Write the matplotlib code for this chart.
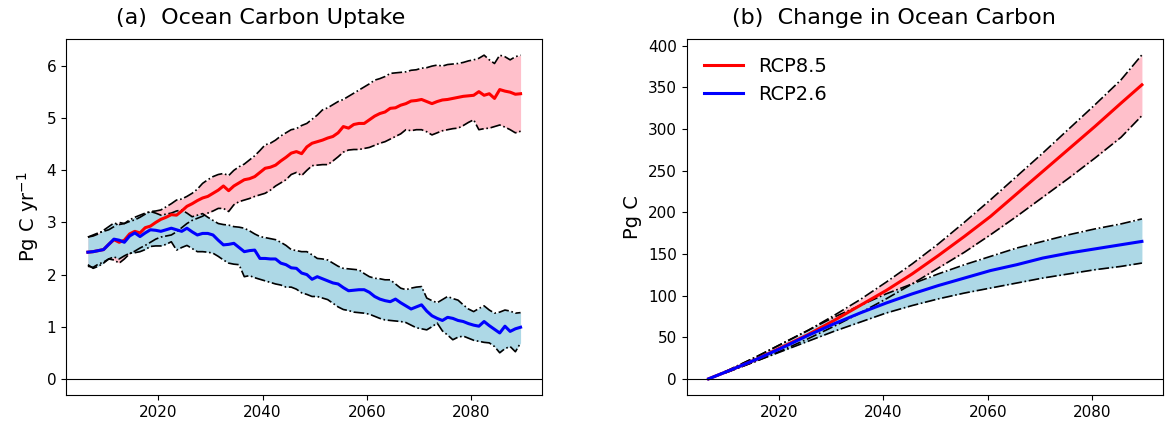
import numpy as np
import matplotlib
matplotlib.use("Agg")
import matplotlib.pyplot as plt

# annual values, 2006-2089 (plotted at mid-year)
years = np.arange(2006, 2090) + 0.5

# (a) uptake, Pg C / yr
rcp85_mean = [2.43, 2.44, 2.46, 2.48, 2.58, 2.67, 2.62, 2.66, 2.78, 2.83,
              2.80, 2.90, 2.93, 3.00, 3.06, 3.10, 3.15, 3.14, 3.22, 3.31,
              3.36, 3.42, 3.47, 3.50, 3.56, 3.62, 3.70, 3.61, 3.70, 3.76,
              3.82, 3.84, 3.88, 3.96, 4.04, 4.06, 4.10, 4.18, 4.25, 4.33,
              4.36, 4.32, 4.45, 4.52, 4.55, 4.58, 4.62, 4.65, 4.72, 4.84,
              4.81, 4.88, 4.90, 4.90, 4.97, 5.04, 5.09, 5.12, 5.19, 5.20,
              5.25, 5.28, 5.33, 5.34, 5.36, 5.32, 5.28, 5.32, 5.35, 5.36,
              5.38, 5.40, 5.42, 5.43, 5.44, 5.51, 5.44, 5.47, 5.38, 5.55,
              5.52, 5.50, 5.46, 5.47]
rcp85_hi = [2.72, 2.76, 2.80, 2.83, 2.86, 2.92, 3.00, 2.98, 3.02, 3.05,
            3.10, 3.16, 3.21, 3.22, 3.24, 3.30, 3.36, 3.43, 3.45, 3.50,
            3.56, 3.64, 3.75, 3.82, 3.88, 3.92, 3.94, 3.90, 4.00, 4.07,
            4.12, 4.20, 4.28, 4.38, 4.49, 4.52, 4.58, 4.66, 4.72, 4.78,
            4.80, 4.86, 4.90, 4.98, 5.06, 5.16, 5.20, 5.26, 5.32, 5.36,
            5.42, 5.48, 5.54, 5.60, 5.66, 5.73, 5.76, 5.80, 5.86, 5.87,
            5.88, 5.89, 5.92, 5.93, 5.96, 5.97, 6.00, 6.02, 6.00, 6.03,
            6.04, 6.05, 6.07, 6.10, 6.12, 6.15, 6.21, 6.12, 6.05, 6.21,
            6.18, 6.12, 6.18, 6.21]
rcp85_lo = [2.16, 2.14, 2.20, 2.24, 2.30, 2.28, 2.22, 2.30, 2.40, 2.45,
            2.51, 2.56, 2.62, 2.68, 2.72, 2.74, 2.76, 2.82, 2.90, 2.98,
            3.04, 3.08, 3.12, 3.18, 3.22, 3.27, 3.27, 3.21, 3.34, 3.40,
            3.43, 3.46, 3.50, 3.53, 3.56, 3.62, 3.70, 3.76, 3.82, 3.92,
            3.96, 3.90, 4.00, 4.09, 4.10, 4.11, 4.11, 4.18, 4.26, 4.35,
            4.39, 4.40, 4.40, 4.42, 4.44, 4.48, 4.52, 4.55, 4.60, 4.65,
            4.70, 4.78, 4.76, 4.78, 4.78, 4.74, 4.68, 4.72, 4.76, 4.78,
            4.80, 4.81, 4.86, 4.92, 4.97, 4.78, 4.80, 4.81, 4.84, 4.87,
            4.83, 4.78, 4.72, 4.75]
rcp26_mean = [2.43, 2.44, 2.46, 2.48, 2.58, 2.68, 2.66, 2.62, 2.74, 2.80,
              2.73, 2.80, 2.86, 2.85, 2.83, 2.86, 2.89, 2.86, 2.83, 2.89,
              2.82, 2.76, 2.79, 2.79, 2.76, 2.66, 2.57, 2.58, 2.60, 2.52,
              2.44, 2.46, 2.47, 2.31, 2.31, 2.30, 2.30, 2.22, 2.19, 2.13,
              2.12, 2.03, 2.00, 1.91, 1.96, 1.92, 1.88, 1.84, 1.82, 1.75,
              1.69, 1.70, 1.71, 1.71, 1.66, 1.58, 1.53, 1.50, 1.48, 1.53,
              1.46, 1.40, 1.34, 1.38, 1.42, 1.30, 1.21, 1.16, 1.12, 1.18,
              1.16, 1.12, 1.10, 1.06, 1.03, 1.01, 1.10, 1.02, 0.95, 0.88,
              1.01, 0.91, 0.96, 0.99]
rcp26_hi = [2.72, 2.74, 2.78, 2.85, 2.92, 2.99, 2.96, 2.98, 3.05, 3.10,
            3.14, 3.18, 3.21, 3.18, 3.14, 3.16, 3.18, 3.22, 3.24, 3.18,
            3.11, 3.14, 3.17, 3.10, 3.04, 2.98, 2.96, 2.95, 2.92, 2.91,
            2.89, 2.84, 2.78, 2.73, 2.71, 2.69, 2.67, 2.62, 2.56, 2.48,
            2.46, 2.44, 2.44, 2.38, 2.31, 2.30, 2.28, 2.22, 2.16, 2.12,
            2.11, 2.10, 2.09, 2.02, 1.96, 1.93, 1.92, 1.90, 1.90, 1.82,
            1.74, 1.71, 1.74, 1.76, 1.77, 1.55, 1.50, 1.46, 1.52, 1.58,
            1.54, 1.51, 1.42, 1.34, 1.29, 1.35, 1.40, 1.32, 1.26, 1.28,
            1.32, 1.30, 1.26, 1.27]
rcp26_lo = [2.19, 2.12, 2.16, 2.22, 2.30, 2.34, 2.30, 2.36, 2.41, 2.42,
            2.44, 2.48, 2.54, 2.55, 2.55, 2.58, 2.63, 2.47, 2.52, 2.56,
            2.50, 2.44, 2.44, 2.43, 2.41, 2.35, 2.28, 2.22, 2.20, 2.19,
            1.96, 1.98, 1.94, 1.91, 1.88, 1.85, 1.82, 1.80, 1.76, 1.76,
            1.72, 1.65, 1.62, 1.58, 1.58, 1.55, 1.52, 1.45, 1.38, 1.33,
            1.31, 1.28, 1.27, 1.26, 1.24, 1.20, 1.16, 1.13, 1.12, 1.11,
            1.10, 1.08, 1.03, 0.98, 0.96, 0.94, 1.00, 1.07, 0.92, 0.84,
            0.75, 0.80, 0.82, 0.78, 0.74, 0.72, 0.70, 0.69, 0.62, 0.50,
            0.58, 0.62, 0.52, 0.69]

# (b) cumulative change, Pg C
cum_years = np.array([2006, 2010, 2015, 2020, 2025, 2030, 2035, 2040, 2045,
                      2050, 2055, 2060, 2065, 2070, 2075, 2080, 2085, 2089]) + 0.5
cum85_mean = [0, 10, 23, 38, 53, 70, 88, 106, 126, 148, 171, 195, 222, 249, 276, 303, 331, 353]
cum85_hi = [0, 11, 26, 42, 58, 76, 95, 116, 138, 162, 188, 215, 243, 271, 300, 329, 359, 389]
cum85_lo = [0, 9, 21, 34, 48, 63, 79, 96, 114, 133, 152, 173, 195, 218, 241, 265, 290, 316]
cum26_mean = [0, 10, 23, 37, 52, 66, 79, 91, 102, 112, 121, 130, 137, 145, 151, 156, 161, 165]
cum26_hi = [0, 11, 26, 42, 58, 74, 88, 102, 114, 126, 137, 147, 157, 165, 173, 180, 186, 192]
cum26_lo = [0, 9, 21, 33, 45, 57, 68, 79, 88, 96, 103, 109, 115, 121, 126, 131, 135, 139]

fig = plt.figure(figsize=(11.66, 4.3), dpi=100)
ax1 = fig.add_axes([0.0566, 0.0814, 0.4082, 0.8279])
ax2 = fig.add_axes([0.5889, 0.0814, 0.4088, 0.8279])


def draw(ax, x, m85, h85, l85, m26, h26, l26):
    ax.fill_between(x, l85, h85, color='pink', lw=0)
    ax.fill_between(x, l26, h26, color='lightblue', lw=0)
    for b in (h85, l85, h26, l26):
        ax.plot(x, b, color='black', ls='-.', lw=1.2)
    l1, = ax.plot(x, m85, color='red', lw=2.2, label='RCP8.5')
    l2, = ax.plot(x, m26, color='blue', lw=2.2, label='RCP2.6')
    ax.axhline(0, color='black', lw=0.8)
    ax.set_xlim(2002.3, 2093.6)
    ax.set_xticks([2020, 2040, 2060, 2080])
    ax.tick_params(labelsize=11)
    return l1, l2


draw(ax1, years, rcp85_mean, rcp85_hi, rcp85_lo, rcp26_mean, rcp26_hi, rcp26_lo)
ax1.set_ylim(-0.31, 6.52)
ax1.set_ylabel('Pg C yr$^{-1}$', fontsize=14)
ax1.set_title('(a)  Ocean Carbon Uptake', fontsize=16, x=0.409, pad=11)

draw(ax2, cum_years, cum85_mean, cum85_hi, cum85_lo, cum26_mean, cum26_hi, cum26_lo)
ax2.set_ylim(-19.4, 408)
ax2.set_ylabel('Pg C', fontsize=14)
ax2.set_title('(b)  Change in Ocean Carbon', fontsize=16, x=0.435, pad=11)
ax2.legend(loc='upper left', frameon=False, fontsize=14)

fig.savefig('out.png', dpi=100)
